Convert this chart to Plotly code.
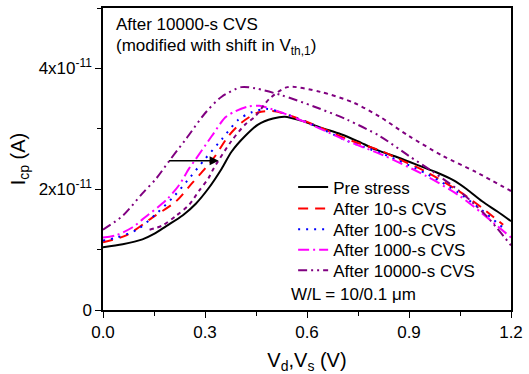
import plotly.graph_objects as go

# Pre stress
x_pre = [0.0, 0.058, 0.116, 0.15, 0.186, 0.235, 0.273, 0.311, 0.349, 0.378, 0.418, 0.456, 0.5, 0.535, 0.58, 0.64, 0.7, 0.747, 0.805, 0.87, 0.93, 0.98, 1.03, 1.07, 1.115, 1.16, 1.2]
y_pre = [1.04, 1.09, 1.17, 1.26, 1.39, 1.57, 1.76, 2.02, 2.34, 2.62, 2.88, 3.07, 3.17, 3.2, 3.14, 3.02, 2.91, 2.8, 2.65, 2.52, 2.39, 2.28, 2.15, 2.0, 1.8, 1.63, 1.47]
# After 10-s CVS
x_10 = [0.0, 0.07, 0.145, 0.215, 0.262, 0.3, 0.33, 0.369, 0.407, 0.456, 0.505, 0.56, 0.62, 0.718, 0.825, 0.854, 0.95, 1.046, 1.115, 1.177]
y_10 = [1.12, 1.24, 1.53, 1.8, 2.1, 2.34, 2.55, 2.88, 3.1, 3.27, 3.29, 3.2, 3.07, 2.83, 2.62, 2.54, 2.29, 1.97, 1.69, 1.41]
# After 100-s CVS
x_100 = [0.0, 0.04, 0.1, 0.16, 0.21, 0.258, 0.3, 0.35, 0.398, 0.436, 0.48, 0.53, 0.62, 0.718, 0.825, 0.95, 1.046, 1.115, 1.177]
y_100 = [1.15, 1.2, 1.33, 1.61, 1.89, 2.21, 2.5, 2.83, 3.15, 3.27, 3.33, 3.26, 3.06, 2.8, 2.58, 2.26, 1.94, 1.65, 1.36]
# After 1000-s CVS
x_1000 = [0.0, 0.04, 0.087, 0.116, 0.186, 0.224, 0.253, 0.273, 0.32, 0.36, 0.389, 0.427, 0.46, 0.52, 0.62, 0.718, 0.825, 0.95, 1.046, 1.115, 1.2]
y_1000 = [1.2, 1.24, 1.37, 1.5, 1.82, 2.07, 2.34, 2.5, 2.88, 3.19, 3.29, 3.37, 3.38, 3.28, 3.05, 2.8, 2.56, 2.22, 1.9, 1.6, 1.2]
# After 10000-s CVS
x_10000 = [0.0, 0.058, 0.116, 0.157, 0.195, 0.244, 0.302, 0.349, 0.407, 0.447, 0.523, 0.62, 0.718, 0.814, 0.9, 0.97, 1.046, 1.124, 1.2]
y_10000 = [1.33, 1.56, 1.93, 2.18, 2.47, 2.83, 3.27, 3.53, 3.69, 3.67, 3.56, 3.37, 3.15, 2.88, 2.55, 2.29, 1.98, 1.58, 1.07]
# After 10000-s CVS, modified with shift in Vth,1
x_shift = [0.137, 0.175, 0.215, 0.253, 0.282, 0.31, 0.325, 0.378, 0.418, 0.447, 0.49, 0.543, 0.64, 0.738, 0.814, 0.9, 1.0, 1.095, 1.2]
y_shift = [1.33, 1.4, 1.56, 1.74, 1.97, 2.18, 2.34, 2.8, 3.07, 3.2, 3.5, 3.69, 3.61, 3.43, 3.2, 2.88, 2.55, 2.29, 1.97]

arrow_x = [0.19, 0.34]
arrow_y = 2.47

x_ticks = [0.0, 0.3, 0.6, 0.9, 1.2]
x_ticktext = ["0.0", "0.3", "0.6", "0.9", "1.2"]
y_ticks = [0, 2e-11, 4e-11]
y_ticktext = ["0", "2x10<sup>-11</sup>", "4x10<sup>-11</sup>"]

S = 1e-11
FAM = "Liberation Sans, Arial, sans-serif"
fig = go.Figure()
series = [
    (x_pre, y_pre, "Pre stress", "black", "solid", "legend"),
    (x_10, y_10, "After 10-s CVS", "#FF0000", "10px,7px", "legend2"),
    (x_100, y_100, "After 100-s CVS", "#0000FF", "2px,6px", "legend3"),
    (x_1000, y_1000, "After 1000-s CVS", "#FF00FF", "11px,4px,2px,4px", "legend4"),
    (x_10000, y_10000, "After 10000-s CVS", "#800080", "9px,4px,2px,4px,2px,4px", "legend5"),
    (x_shift, y_shift, "shifted", "#800080", "4px,4px", None),
]
for xs, ys, name, col, dash, lg in series:
    kw = dict(legend=lg, showlegend=True) if lg else dict(showlegend=False)
    fig.add_trace(go.Scatter(x=xs, y=[v * S for v in ys], mode="lines", name=name,
                             line=dict(color=col, dash=dash, width=2, shape="spline", smoothing=0.8),
                             **kw))

fig.add_annotation(x=arrow_x[1], y=arrow_y * S, ax=arrow_x[0], ay=arrow_y * S,
                   xref="x", yref="y", axref="x", ayref="y", text="",
                   showarrow=True, arrowhead=2, arrowsize=1.2, arrowwidth=1.5, arrowcolor="black")

font = dict(family=FAM, size=17, color="black")
fig.add_annotation(x=0.028, y=0.945, xref="paper", yref="paper", text="After 10000-s CVS",
                   showarrow=False, xanchor="left", yanchor="middle", font=font)
fig.add_annotation(x=0.028, y=0.872, xref="paper", yref="paper",
                   text="(modified with shift in V<sub>th,1</sub>)",
                   showarrow=False, xanchor="left", yanchor="middle", font=font)
fig.add_annotation(x=0.456, y=0.05, xref="paper", yref="paper", text="W/L = 10/0.1 μm",
                   showarrow=False, xanchor="left", yanchor="middle", font=font)

row_px = [189, 211, 232, 253, 274]
legend_keys = ["legend", "legend2", "legend3", "legend4", "legend5"]
legends = {}
for key, py in zip(legend_keys, row_px):
    legends[key] = dict(x=0.466, y=(314 - py) / 308, xanchor="left", yanchor="middle",
                        bgcolor="rgba(0,0,0,0)", font=dict(size=17, family=FAM, color="black"),
                        itemwidth=30, borderwidth=0)

fig.update_layout(
    width=529, height=374,
    margin=dict(l=103, r=13, t=6, b=60),
    paper_bgcolor="white", plot_bgcolor="white",
    font=dict(family=FAM, size=17, color="black"),
    xaxis=dict(range=[0, 1.2], tickvals=x_ticks, ticktext=x_ticktext,
               showline=True, linecolor="black", linewidth=1.5, mirror=True,
               ticks="outside", ticklen=6, tickcolor="black", showgrid=False, zeroline=False,
               minor=dict(ticks="outside", ticklen=4, dtick=0.15, tickcolor="black", showgrid=False),
               title=dict(text="V<sub>d</sub>,V<sub>s</sub> (V)", standoff=12)),
    yaxis=dict(range=[0, 5e-11], tickvals=y_ticks, ticktext=y_ticktext,
               showline=True, linecolor="black", linewidth=1.5, mirror=True,
               ticks="outside", ticklen=6, tickcolor="black", showgrid=False, zeroline=False,
               minor=dict(ticks="outside", ticklen=4, dtick=1e-11, tickcolor="black", showgrid=False),
               title=dict(text="I<sub>cp</sub> (A)", standoff=8)),
    **legends,
)
fig.write_html("out.html")
